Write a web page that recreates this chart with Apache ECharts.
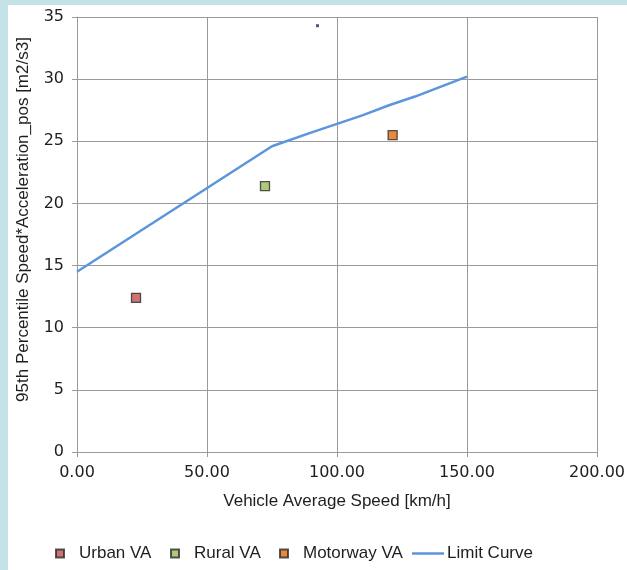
<!DOCTYPE html>
<html>
<head>
<meta charset="utf-8">
<script src="https://cdn.jsdelivr.net/npm/echarts@6/dist/echarts.min.js"></script>
<style>
  html, body { margin: 0; padding: 0; background: #c4e3e8; }
  #main { position: absolute; left: 8px; top: 5px; width: 619px; height: 565px; background: #fff; }
</style>
</head>
<body>
<div id="main"></div>
<script>
// 數據
var urban = [[22.7, 12.4]];
var rural = [[72.3, 21.4]];
var motorway = [[121.4, 25.5]];
var stray = [[92.5, 34.3]];
var limitX = [0, 75, 90, 100, 110, 120, 130, 140, 150];
var limitY = [14.5, 24.6, 25.7, 26.4, 27.1, 27.9, 28.6, 29.4, 30.2];
var xTicks = [0, 50, 100, 150, 200];
var yTicks = [0, 5, 10, 15, 20, 25, 30, 35];

var limit = [];
for (var i = 0; i < limitX.length; i++) {
  limit.push([limitX[i], limitY[i]]);
}

var myChart = echarts.init(document.getElementById("main"));

var gridColor = "#9a9a9a";
var txt = "#1e1e1e";

function legendAt(name, left, isLine) {
  var l = {
    left: left,
    top: 535,
    data: [name],
    icon: "rect",
    itemWidth: isLine ? 32 : 8,
    itemHeight: isLine ? 2.5 : 8,
    textStyle: {
      fontFamily: "Liberation Sans",
      fontSize: 17,
      color: txt,
      padding: isLine ? [0, 0, 0, -2] : [0, 0, 0, 10]
    }
  };
  return l;
}

var option = {
  animation: false,
  grid: { left: 69, top: 12, right: 30, bottom: 118, containLabel: false, outerBoundsMode: "none" },
  legend: [
    legendAt("Urban VA", 42, false),
    legendAt("Rural VA", 157, false),
    legendAt("Motorway VA", 266, false),
    legendAt("Limit Curve", 399, true)
  ],
  xAxis: {
    type: "value",
    min: xTicks[0],
    max: xTicks[xTicks.length - 1],
    interval: 50,
    name: "Vehicle Average Speed [km/h]",
    nameLocation: "middle",
    nameGap: 41,
    nameTextStyle: { fontFamily: "Liberation Sans", fontSize: 17, color: txt },
    axisLine: { show: true, lineStyle: { color: gridColor, width: 1 } },
    axisTick: { show: true, length: 5, lineStyle: { color: gridColor } },
    axisLabel: {
      margin: 13,
      fontFamily: "DejaVu Sans",
      fontSize: 16,
      color: txt,
      formatter: function (v) { return v.toFixed(2); }
    },
    splitLine: { show: true, lineStyle: { color: gridColor, width: 1 } }
  },
  yAxis: {
    type: "value",
    min: yTicks[0],
    max: yTicks[yTicks.length - 1],
    interval: 5,
    name: "95th Percentile Speed*Acceleration_pos [m2/s3]",
    nameLocation: "middle",
    nameGap: 45,
    nameTextStyle: {
      fontFamily: "Liberation Sans",
      fontSize: 17,
      color: txt,
      padding: [0, 0, 0, 30]
    },
    axisLine: { show: true, lineStyle: { color: gridColor, width: 1 } },
    axisTick: { show: true, length: 5, lineStyle: { color: gridColor } },
    axisLabel: { margin: 13, fontFamily: "DejaVu Sans", fontSize: 16, color: txt },
    splitLine: { show: true, lineStyle: { color: gridColor, width: 1 } }
  },
  series: [
    {
      type: "scatter",
      name: "Urban VA",
      data: urban,
      symbol: "rect",
      symbolSize: 9,
      itemStyle: { color: "#c0504d", borderColor: "#2a2a2a", borderWidth: 1.3 },
      z: 5
    },
    {
      type: "scatter",
      name: "Rural VA",
      data: rural,
      symbol: "rect",
      symbolSize: 9,
      itemStyle: { color: "#9bbb59", borderColor: "#2a2a2a", borderWidth: 1.3 },
      z: 5
    },
    {
      type: "scatter",
      name: "Motorway VA",
      data: motorway,
      symbol: "rect",
      symbolSize: 9,
      itemStyle: { color: "#e46c0a", borderColor: "#2a2a2a", borderWidth: 1.3 },
      z: 5
    },
    {
      type: "line",
      name: "Limit Curve",
      data: limit,
      symbol: "none",
      lineStyle: { color: "#5b95dc", width: 2.5 },
      itemStyle: { color: "#5b95dc", borderWidth: 0 },
      z: 4
    },
    {
      type: "scatter",
      name: "stray",
      data: stray,
      symbol: "rect",
      symbolSize: 3,
      itemStyle: { color: "#1f2d6b" },
      silent: true
    }
  ]
};
myChart.setOption(option);
</script>
</body>
</html>
